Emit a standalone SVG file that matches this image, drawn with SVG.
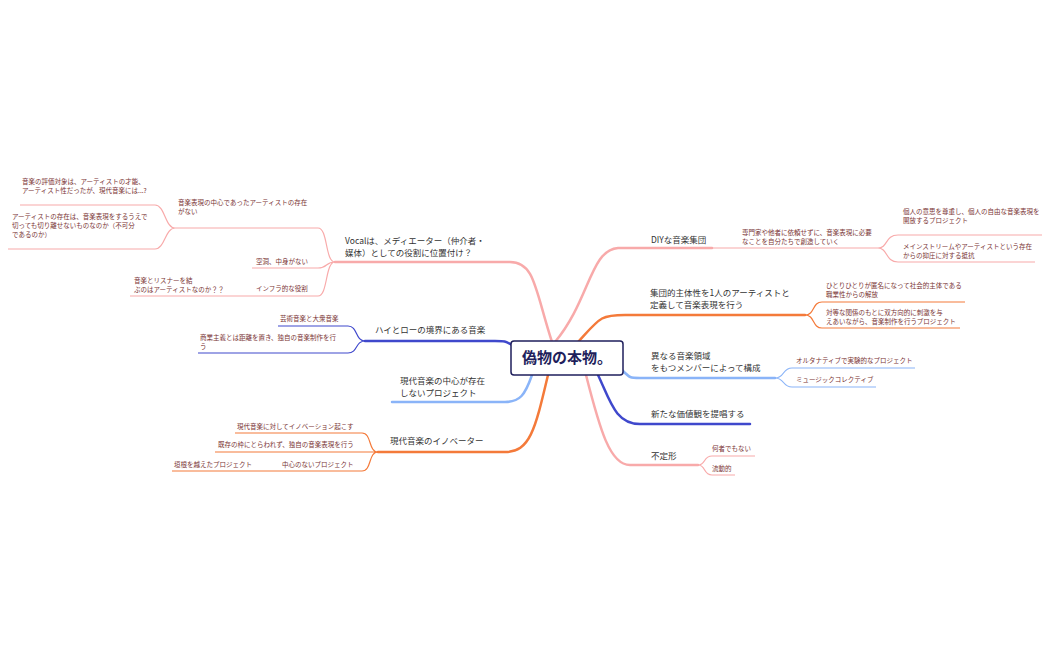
<svg xmlns="http://www.w3.org/2000/svg" width="1050" height="650" viewBox="0 0 1050 650">
<style>
text{font-family:"Noto Sans CJK JP","Noto Sans",sans-serif}
.b{font-size:8.5px;fill:#333}
.l{font-size:6.5px;fill:#7a3434}
.m{fill:none;stroke-width:2.5;stroke-linecap:round}
.s{fill:none;stroke-width:1.2}
.pk{stroke:#f8aaaa}.or{stroke:#f47a3a}.lb{stroke:#8ab4f8}.db{stroke:#3f48cc}
</style>
<rect width="1050" height="650" fill="#fff"/>
<g id="connectors">
<path class="m pk" d="M555 342 C590 300,590 250,618 248 L712 248"/>
<path class="s pk" d="M712 248 L878 248 C888 248,885 235,898 235 L1042 235 M878 248 C888 248,885 262,898 262 L1035 262"/>
<path class="m or" d="M578 342 C600 318,600 315,625 315 L805 315"/>
<path class="s or" d="M805 315 C815 315,812 302,822 302 L965 302 M805 315 C815 315,812 328,822 328 L960 328"/>
<path class="m lb" d="M622 370 C630 378,630 378,640 378 L775 378"/>
<path class="s lb" d="M775 378 C785 378,782 368,792 368 L915 368 M775 378 C785 378,782 387,792 387 L876 387"/>
<path class="m db" d="M598 375 C610 400,615 424,640 424 L750 424"/>
<path class="m pk" d="M586 375 C600 430,610 465,630 465 L698 465"/>
<path class="s pk" d="M698 465 C706 465,703 456,712 456 L755 456 M698 465 C706 465,703 475,712 475 L735 475"/>
<path class="m pk" d="M552 342 C535 290,535 262,510 262 L335 262"/>
<path class="s pk" d="M335 262 C325 262,328 228,318 228 L175 228 C165 228,165 205,155 205 L20 205 M175 228 C165 228,165 249,155 249 L8 249 M335 262 C325 262,328 268,318 268 L252 268 M335 262 C325 262,328 296,318 296 L130 296"/>
<path class="m db" d="M512 345 C505 341,505 341,495 341 L365 341"/>
<path class="s db" d="M365 341 C355 341,358 326,348 326 L278 326 M365 341 C355 341,358 353,348 353 L198 353"/>
<path class="m lb" d="M532 375 C525 395,520 402,505 402 L392 402"/>
<path class="m or" d="M548 375 C535 430,530 452,505 452 L378 452"/>
<path class="s or" d="M378 452 C368 452,372 433,362 433 L235 433 M378 452 L215 452 M378 452 C368 452,372 471,362 471 L172 471"/>
</g>
<g id="center"><rect x="511" y="341" width="112" height="34" rx="3" fill="#fff" stroke="#1f1f5c" stroke-width="1.5"/><text x="567" y="363" text-anchor="middle" font-size="15" font-weight="bold" fill="#1f1f5c">偽物の本物。</text></g>
<g id="diy"><text class="b" x="651" y="243">DIYな音楽集団</text></g>
<g id="diy1"><text class="l" x="742" y="235">専門家や他者に依頼せずに、音楽表現に必要</text><text class="l" x="742" y="244">なことを自分たちで創造していく</text></g>
<g id="diy1a"><text class="l" x="903" y="214">個人の意思を尊重し、個人の自由な音楽表現を</text><text class="l" x="903" y="223">開放するプロジェクト</text></g>
<g id="diy1b"><text class="l" x="903" y="249">メインストリームやアーティストという存在</text><text class="l" x="903" y="258">からの抑圧に対する抵抗</text></g>
<g id="shudan"><text class="b" x="650" y="296">集団的主体性を1人のアーティストと</text><text class="b" x="650" y="308">定義して音楽表現を行う</text></g>
<g id="shudan1"><text class="l" x="826" y="288">ひとりひとりが匿名になって社会的主体である</text><text class="l" x="826" y="297">職業性からの解放</text></g>
<g id="shudan2"><text class="l" x="826" y="315">対等な関係のもとに双方向的に刺激を与</text><text class="l" x="826" y="324">えあいながら、音楽制作を行うプロジェクト</text></g>
<g id="kotonaru"><text class="b" x="651" y="359">異なる音楽領域</text><text class="b" x="651" y="371">をもつメンバーによって構成</text></g>
<g id="kotonaru1"><text class="l" x="796" y="363">オルタナティブで実験的なプロジェクト</text></g>
<g id="kotonaru2"><text class="l" x="796" y="382">ミュージックコレクティブ</text></g>
<g id="arata"><text class="b" x="651" y="417">新たな価値観を提唱する</text></g>
<g id="futei"><text class="b" x="651" y="459">不定形</text></g>
<g id="futei1"><text class="l" x="712" y="451">何者でもない</text></g>
<g id="futei2"><text class="l" x="712" y="471">流動的</text></g>
<g id="vocal"><text class="b" x="345" y="244">Vocalは、メディエーター（仲介者・</text><text class="b" x="345" y="256">媒体）としての役割に位置付け？</text></g>
<g id="vocal1"><text class="l" x="178" y="205">音楽表現の中心であったアーティストの存在</text><text class="l" x="178" y="214">がない</text></g>
<g id="vocal1a"><text class="l" x="22" y="184">音楽の評価対象は、アーティストの才能、</text><text class="l" x="22" y="193">アーティスト性だったが、現代音楽には...?</text></g>
<g id="vocal1b"><text class="l" x="12" y="219">アーティストの存在は、音楽表現をするうえで</text><text class="l" x="12" y="228">切っても切り離せないものなのか（不可分</text><text class="l" x="12" y="237">であるのか）</text></g>
<g id="vocal2"><text class="l" x="256" y="264">空洞、中身がない</text></g>
<g id="vocal3"><text class="l" x="256" y="291">インフラ的な役割</text></g>
<g id="vocal3a"><text class="l" x="134" y="283">音楽とリスナーを結</text><text class="l" x="134" y="292">ぶのはアーティストなのか？？</text></g>
<g id="high"><text class="b" x="375" y="333">ハイとローの境界にある音楽</text></g>
<g id="high1"><text class="l" x="280" y="321">芸術音楽と大衆音楽</text></g>
<g id="high2"><text class="l" x="200" y="340">商業主義とは距離を置き、独自の音楽制作を行</text><text class="l" x="200" y="349">う</text></g>
<g id="chushin"><text class="b" x="400" y="384">現代音楽の中心が存在</text><text class="b" x="400" y="396">しないプロジェクト</text></g>
<g id="inno"><text class="b" x="390" y="444">現代音楽のイノベーター</text></g>
<g id="inno1"><text class="l" x="237" y="429">現代音楽に対してイノベーション起こす</text></g>
<g id="inno2"><text class="l" x="218" y="447">既存の枠にとらわれず、独自の音楽表現を行う</text></g>
<g id="inno3"><text class="l" x="282" y="467">中心のないプロジェクト</text></g>
<g id="inno3a"><text class="l" x="174" y="467">垣根を越えたプロジェクト</text></g>
</svg>
